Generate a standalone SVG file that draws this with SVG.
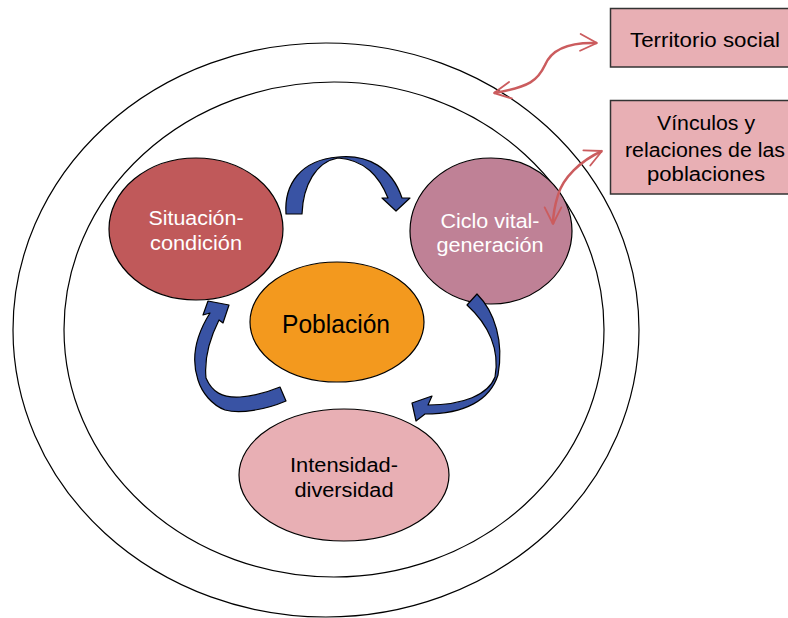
<svg xmlns="http://www.w3.org/2000/svg" width="788" height="618" viewBox="0 0 788 618">
<defs>
<style>
.ring{fill:none;stroke:#000;stroke-width:1.2}
.node{stroke:#000;stroke-width:1.2}
.box{fill:#E8AFB4;stroke:#333;stroke-width:1.5}
.blue{fill:#3953A4;stroke:#000;stroke-width:1.2;stroke-linejoin:round}
.pink{fill:none;stroke:#CB5C5E;stroke-width:2.5;marker-start:url(#oa);marker-end:url(#oa)}
text{font-family:"Liberation Sans",Arial,sans-serif;text-anchor:middle;font-size:20px}
.w{fill:#fff}
.k{fill:#000}
</style>
<marker id="oa" viewBox="0 0 12 12" refX="11" refY="6" markerWidth="8" markerHeight="8" orient="auto-start-reverse" markerUnits="strokeWidth">
<path d="M1,1 L11,6 L1,11" fill="none" stroke="#CB5C5E" stroke-width="1.1" stroke-linecap="round" stroke-linejoin="round"/>
</marker>
</defs>
<rect width="788" height="618" fill="#fff"/>
<g id="rings">
<ellipse class="ring" cx="326" cy="330" rx="313" ry="287"/>
<ellipse class="ring" cx="334" cy="329.5" rx="270" ry="247.5"/>
</g>
<g id="situacion">
<ellipse class="node" cx="196" cy="229" rx="87" ry="71" fill="#C0595A"/>
<text class="w" x="196" y="225" textLength="95" lengthAdjust="spacingAndGlyphs">Situación-</text>
<text class="w" x="196" y="250" textLength="92" lengthAdjust="spacingAndGlyphs">condición</text>
</g>
<g id="ciclo">
<ellipse class="node" cx="491" cy="231" rx="81" ry="73" fill="#BF8196"/>
<text class="w" x="490" y="228" textLength="99" lengthAdjust="spacingAndGlyphs">Ciclo vital-</text>
<text class="w" x="490" y="252" textLength="107" lengthAdjust="spacingAndGlyphs">generación</text>
</g>
<g id="poblacion">
<ellipse class="node" cx="337" cy="322" rx="87" ry="60" fill="#F3991E"/>
<text class="k" x="336" y="333" style="font-size:25px" textLength="108" lengthAdjust="spacingAndGlyphs">Población</text>
</g>
<g id="intensidad">
<ellipse class="node" cx="344" cy="475" rx="105" ry="66" fill="#E8AFB4"/>
<text class="k" x="344" y="472" textLength="108" lengthAdjust="spacingAndGlyphs">Intensidad-</text>
<text class="k" x="344" y="497" textLength="99" lengthAdjust="spacingAndGlyphs">diversidad</text>
</g>
<g id="territorio">
<rect class="box" x="610.5" y="8.5" width="180" height="58.5"/>
<text class="k" x="705" y="47" textLength="150" lengthAdjust="spacingAndGlyphs">Territorio social</text>
</g>
<g id="vinculos">
<rect class="box" x="610.5" y="100.5" width="180" height="93.5"/>
<text class="k" x="706" y="130" textLength="98" lengthAdjust="spacingAndGlyphs">Vínculos y</text>
<text class="k" x="705" y="157" textLength="160" lengthAdjust="spacingAndGlyphs">relaciones de las</text>
<text class="k" x="706" y="181" textLength="118" lengthAdjust="spacingAndGlyphs">poblaciones</text>
</g>
<g id="connectors">
<path class="blue" d="M286,214 C284,185 300,160 338,157 C368,154 392,168 402,198 L410,198 L396,211 L382,198 L388,198 C379,176 365,160 338,158 C316,162 303,185 302,214 Z"/>
<path class="blue" d="M467,305 L477,294 C495,312 504,342 498,375 C490,400 465,414 425,414 L416,421 L412,403 L432,396 L428,405 C463,405 488,395 495,377 C500,350 489,325 467,305 Z"/>
<path class="blue" d="M280,387 L286,401 C265,410 240,414 225,410 C212,405 202,393 198,380 C192,362 193,340 210,313 L203,315 L208,301 L229,305 L223,323 L219,320 C210,338 204,358 206,378 C212,392 222,398 240,397 C255,396 268,392 280,387 Z"/>
<path class="pink" d="M494,93 C530,87 538,80 545,65 C552,48 570,42 597,43"/>
<path class="pink" d="M602,151 C580,161 563,178 558,195 C554,208 553,216 553,224"/>
</g>
</svg>
